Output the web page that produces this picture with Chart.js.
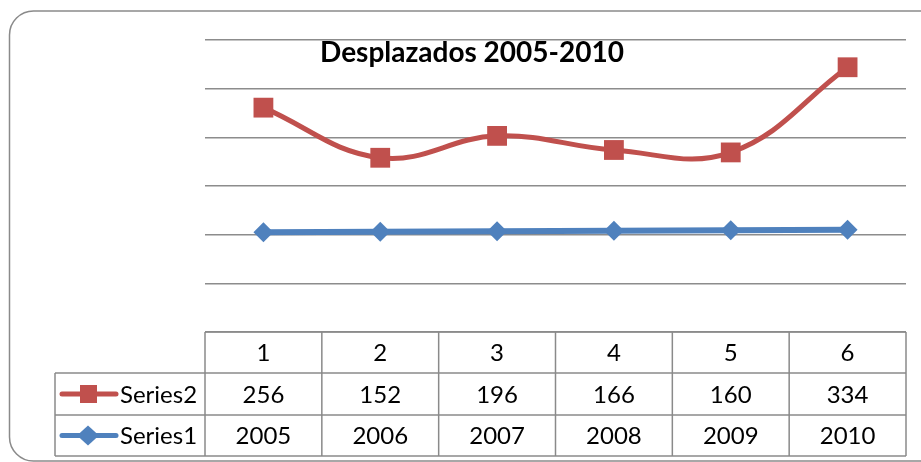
<!DOCTYPE html>
<html>
<head>
<meta charset="utf-8">
<script src="https://cdn.jsdelivr.net/npm/chart.js@4.4.0/dist/chart.umd.min.js"></script>
<style>
	body { margin: 0; background: #fff; }
</style>
</head>
<body>
<canvas id="myChart" width="921" height="462"></canvas>
<script>
// Data
const labels = ["1", "2", "3", "4", "5", "6"];
const series1 = [2005, 2006, 2007, 2008, 2009, 2010];
const series2 = [256, 152, 196, 166, 160, 334];
const yMin = 1800;
const yMax = 2400;
const yStep = 100;
const chartTitle = "Desplazados 2005-2010";

const red = "#C0504D";
const blue = "#4F81BD";
const gridColor = "#8c8c8c";
const fontFamily = "Lato, 'Open Sans', sans-serif";

// frame, title and data table drawn around the plot
const tablePlugin = {
	id: "tablePlugin",
	beforeDraw(chart) {
		const c = chart.ctx;
		c.save();
		c.strokeStyle = "#8a8a8a";
		c.lineWidth = 1.5;
		c.beginPath();
		c.roundRect(9.5, 11, 960, 450, 24);
		c.stroke();
		c.restore();
	},
	afterDraw(chart) {
		const c = chart.ctx;
		const area = chart.chartArea;
		const xs = chart.scales.x;
		const band = (area.right - area.left) / labels.length;
		const top = area.bottom;
		const rows = [top, top + 41, top + 83, top + 124];
		const legLeft = 55;

		c.save();
		// title
		c.fillStyle = "#000";
		c.font = "bold 28px " + fontFamily;
		c.textAlign = "center";
		c.textBaseline = "middle";
		c.fillText(chartTitle, 472, 53);

		// table grid
		c.strokeStyle = "#8a8a8a";
		c.lineWidth = 1.5;
		c.beginPath();
		c.moveTo(area.left, rows[0]);
		c.lineTo(area.right, rows[0]);
		for (let r = 1; r < rows.length; r++) {
			c.moveTo(legLeft, rows[r]);
			c.lineTo(area.right, rows[r]);
		}
		for (let i = 0; i <= labels.length; i++) {
			const x = area.left + i * band;
			c.moveTo(x, rows[0]);
			c.lineTo(x, rows[3]);
		}
		c.moveTo(legLeft, rows[1]);
		c.lineTo(legLeft, rows[3]);
		c.stroke();

		// cell texts
		c.font = "24px " + fontFamily;
		c.fillStyle = "#000";
		labels.forEach((lab, i) => {
			const x = xs.getPixelForValue(i);
			c.fillText(lab, x, (rows[0] + rows[1]) / 2 + 1);
			c.fillText(String(series2[i]), x, (rows[1] + rows[2]) / 2 + 1);
			c.fillText(String(series1[i]), x, (rows[2] + rows[3]) / 2 + 1);
		});

		// legend keys
		const keys = [
			{ name: "Series2", color: red, shape: "square", y: (rows[1] + rows[2]) / 2 },
			{ name: "Series1", color: blue, shape: "diamond", y: (rows[2] + rows[3]) / 2 }
		];
		keys.forEach(k => {
			c.strokeStyle = k.color;
			c.lineWidth = 5;
			c.lineCap = "round";
			c.beginPath();
			c.moveTo(62, k.y);
			c.lineTo(116, k.y);
			c.stroke();
			c.fillStyle = k.color;
			c.beginPath();
			if (k.shape === "square") {
				c.rect(80, k.y - 9, 17, 18);
			} else {
				c.moveTo(88, k.y - 10);
				c.lineTo(99, k.y);
				c.lineTo(88, k.y + 10);
				c.lineTo(77, k.y);
				c.closePath();
			}
			c.fill();
			c.fillStyle = "#000";
			c.textAlign = "left";
			c.fillText(k.name, 120, k.y + 1);
		});
		c.restore();
	}
};

const ctx = document.getElementById("myChart").getContext("2d");
const myChart = new Chart(ctx, {
	type: "line",
	data: {
		labels: labels,
		datasets: [
			{
				label: "Series1",
				data: series1,
				borderColor: blue,
				backgroundColor: blue,
				borderWidth: 6,
				pointStyle: "rectRot",
				pointRadius: 10,
				pointBorderWidth: 0,
				tension: 0,
				fill: false,
			},
			{
				label: "Series2",
				data: series2,
				borderColor: red,
				backgroundColor: red,
				borderWidth: 5,
				pointStyle: "rect",
				pointRadius: 14,
				pointBorderWidth: 0,
				tension: 0.4,
				fill: false,
			},
		],
	},
	options: {
		responsive: false,
		animation: false,
		layout: {
			padding: { left: 205, right: 15, top: 40, bottom: 130 },
		},
		plugins: {
			legend: { display: false },
			tooltip: { enabled: false },
		},
		scales: {
			x: {
				display: false,
				offset: true,
			},
			y: {
				stacked: true,
				min: yMin,
				max: yMax,
				ticks: { display: false, stepSize: yStep },
				grid: { color: gridColor, lineWidth: 1.5, drawTicks: false },
				border: { display: false },
			},
		},
	},
	plugins: [tablePlugin],
});
</script>
</body>
</html>
